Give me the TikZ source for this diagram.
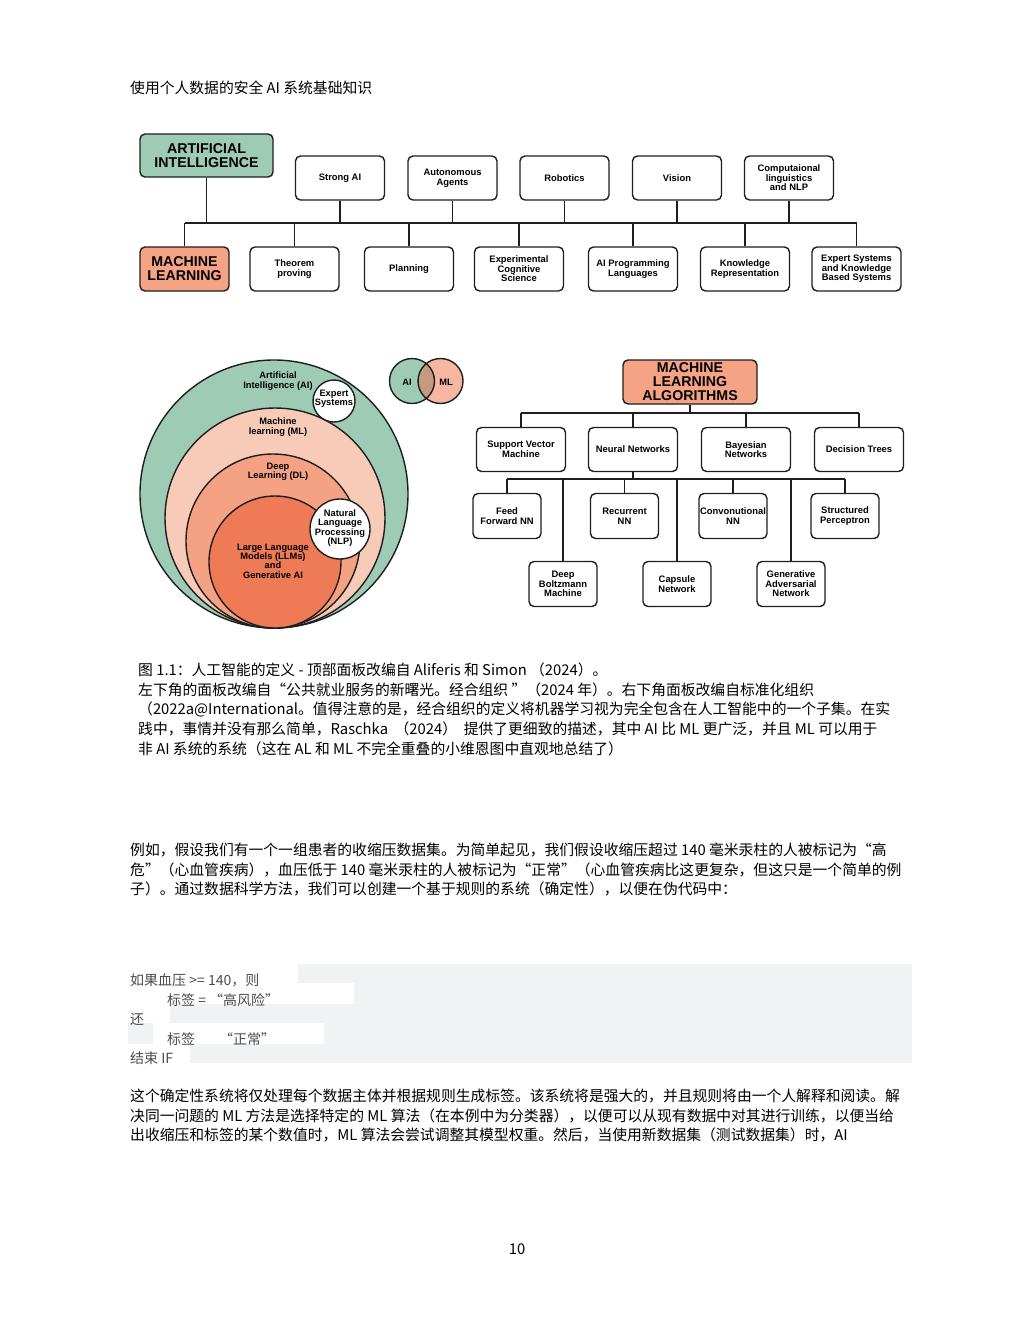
\documentclass[tikz,border=0pt]{standalone}
\usepackage{fontspec}
\setmainfont{Noto Sans CJK SC}
\newfontfamily\diagfont{Liberation Sans}
\usetikzlibrary{positioning}

\definecolor{aigreen}{HTML}{9DCBB5}
\definecolor{mlpeach}{HTML}{F8CBB9}
\definecolor{dlsalmon}{HTML}{F4A283}
\definecolor{llmorange}{HTML}{EF7A56}
\definecolor{mlbox}{HTML}{F4A384}
\definecolor{mlsmall}{HTML}{F5B6A2}
\definecolor{overlap}{HTML}{C59A80}
\definecolor{codegray}{HTML}{F1F2F4}
\definecolor{edge}{HTML}{1E1E1E}

\begin{document}
\begin{tikzpicture}[
  x=1pt, y=-1pt,
  box/.style={draw=edge, line width=1.4pt, rounded corners=5pt, fill=white,
              align=center, inner sep=1pt, minimum width=89, minimum height=44,
              font=\diagfont\bfseries\fontsize{9.4}{9.6}\selectfont},
  smallbox/.style={box, minimum width=68, minimum height=45},
  bigbox/.style={box, font=\diagfont\bfseries\fontsize{14.2}{14}\selectfont},
  link/.style={draw=edge, line width=1.4pt},
  ring/.style={circle, draw=edge, line width=1.4pt, inner sep=0pt},
  lbl/.style={inner sep=0pt, align=center,
              font=\diagfont\bfseries\fontsize{9.3}{9.4}\selectfont},
  txt/.style={anchor=base west, inner sep=0pt, font=\fontsize{14.8}{19.7}\selectfont},
  code/.style={anchor=base west, inner sep=0pt, text=black!70,
               font=\fontsize{14}{19}\selectfont}
]
\useasboundingbox (0,0) rectangle (1020,1320);

\node[txt] (title) at (130,93.5) {使用个人数据的安全 AI 系统基础知识};

% top panel: AI hierarchy
\node[bigbox, fill=aigreen, minimum width=133, minimum height=43] (ai) at (206.5,155.5)
  {ARTIFICIAL\\INTELLIGENCE};
\node[box] (strong)   at (340,178)   {Strong AI};
\node[box] (agents)   at (452.5,178) {Autonomous\\Agents};
\node[box] (robotics) at (564.5,178) {Robotics};
\node[box] (vision)   at (677,178)   {Vision};
\node[box] (compling) at (789,178)   {Computaional\\linguistics\\and NLP};

\node[bigbox, fill=mlbox, minimum width=89] (ml) at (184.5,269) {MACHINE\\LEARNING};
\node[box] (theorem)  at (294.5,269) {Theorem\\proving};
\node[box] (planning) at (409,269)   {Planning};
\node[box] (expcog)   at (519,269)   {Experimental\\Cognitive\\Science};
\node[box] (aiprog)   at (633,269)   {AI Programming\\Languages};
\node[box] (knowrep)  at (745,269)   {Knowledge\\Representation};
\node[box] (expsys)   at (856.5,269) {Expert Systems\\and Knowledge\\Based Systems};

\coordinate (busA) at (184.5,223);
\coordinate (busB) at (856.5,223);
\draw[link] (busA) -- (busB);
\foreach \n in {ai,strong,agents,robotics,vision,compling}
  \draw[link] (\n.south) -- (\n.south |- busA);
\foreach \n in {ml,theorem,planning,expcog,aiprog,knowrep,expsys}
  \draw[link] (\n.north) -- (\n.north |- busA);

% bottom left: nested circles
\node[ring, fill=aigreen,   minimum size=268] (aicirc)  at (274,494) {};
\node[ring, fill=mlpeach,   minimum size=220] (mlcirc)  at (275,518) {};
\node[ring, fill=dlsalmon,  minimum size=174] (dlcirc)  at (273,541) {};
\node[ring, fill=llmorange, minimum size=132] (llmcirc) at (275,562) {};
\node[ring, fill=white, minimum size=42] (escirc)  at (334,401) {};
\node[ring, fill=white, minimum size=60] (nlpcirc) at (340,529) {};

\node[lbl] (ailbl)  at (278,381) {Artificial\\Intelligence (AI)};
\node[lbl] (mllbl)  at (278,427) {Machine\\learning (ML)};
\node[lbl] (dllbl)  at (278,472) {Deep\\Learning (DL)};
\node[lbl] (llmlbl) at (273,561) {Large Language\\Models (LLMs)\\and\\Generative AI};
\node[lbl] (eslbl)  at (334,399) {Expert\\Systems};
\node[lbl] (nlplbl) at (340,528) {Natural\\Language\\Processing\\(NLP)};

% small Venn
\node[circle, fill=aigreen, minimum size=45, inner sep=0pt] (vai) at (412,381) {};
\node[circle, fill=mlsmall, minimum size=45, inner sep=0pt] (vml) at (440.5,381) {};
\begin{scope}
  \clip (vai.center) circle (22.5);
  \fill[overlap] (vml.center) circle (22.5);
\end{scope}
\draw[edge, line width=1.4pt] (vai.center) circle (22.5) (vml.center) circle (22.5);
\node[lbl] (vailbl) at (407,382) {AI};
\node[lbl] (vmllbl) at (446,382) {ML};

% bottom right: ML algorithms
\node[bigbox, fill=mlbox, minimum width=134, minimum height=44] (mla) at (690,382)
  {MACHINE\\LEARNING\\ALGORITHMS};
\node[box] (svm)    at (521,449.5) {Support Vector\\Machine};
\node[box] (neural) at (633,449.5) {Neural Networks};
\node[box] (bayes)  at (746,449.5) {Bayesian\\Networks};
\node[box] (dtree)  at (859,449.5) {Decision Trees};

\node[smallbox] (ffnn)  at (507,516)   {Feed\\Forward NN};
\node[smallbox] (rnn)   at (624.5,516) {Recurrent\\NN};
\node[smallbox] (cnn)   at (733,516)   {Convonutional\\NN};
\node[smallbox] (sperc) at (845,516)   {Structured\\Perceptron};

\node[smallbox] (dbm)     at (563,584) {Deep\\Boltzmann\\Machine};
\node[smallbox] (capsule) at (677,584) {Capsule\\Network};
\node[smallbox] (gan)     at (791,584) {Generative\\Adversarial\\Network};

\coordinate (busC) at (521,413);
\coordinate (busD) at (859,413);
\coordinate (busE) at (507,479);
\coordinate (busF) at (845,479);
\draw[link] (busC) -- (busD);
\draw[link] (busE) -- (busF);
\draw[link] (mla.south) -- (mla.south |- busC);
\foreach \n in {svm,neural,bayes,dtree}
  \draw[link] (\n.north) -- (\n.north |- busC);
\draw[link] (neural.south) -- (neural.south |- busE);
\foreach \n in {ffnn,rnn,cnn,sperc,dbm,capsule,gan}
  \draw[link] (\n.north) -- (\n.north |- busE);

% caption
\node[txt] (cap1) at (138,675.5) {图 1.1：人工智能的定义 - 顶部面板改编自 Aliferis 和 Simon （2024）。};
\node[txt] (cap2) at (138,695.2) {左下角的面板改编自“公共就业服务的新曙光。经合组织 ”（2024 年）。右下角面板改编自标准化组织};
\node[txt] (cap3) at (138,714.9) {（2022a@International。值得注意的是，经合组织的定义将机器学习视为完全包含在人工智能中的一个子集。在实};
\node[txt] (cap4) at (138,734.6) {践中，事情并没有那么简单，Raschka \ （2024） \ 提供了更细致的描述，其中 AI 比 ML 更广泛，并且 ML 可以用于};
\node[txt] (cap5) at (138,754.3) {非 AI 系统的系统（这在 AL 和 ML 不完全重叠的小维恩图中直观地总结了）};

% body text
\node[txt] (par1a) at (130,855.5) {例如，假设我们有一个一组患者的收缩压数据集。为简单起见，我们假设收缩压超过 140 毫米汞柱的人被标记为“高};
\node[txt] (par1b) at (130,875.2) {危”（心血管疾病），血压低于 140 毫米汞柱的人被标记为“正常”（心血管疾病比这更复杂，但这只是一个简单的例};
\node[txt] (par1c) at (130,894.9) {子）。通过数据科学方法，我们可以创建一个基于规则的系统（确定性），以便在伪代码中：};

% pseudo code block
\fill[codegray] (128,964) rectangle (912,1063);
\fill[white] (128,964)  rectangle (298,983);
\fill[white] (128,983)  rectangle (354,1004);
\fill[white] (128,1004) rectangle (170,1023);
\fill[white] (153,1023) rectangle (324,1044);
\fill[white] (128,1044) rectangle (190,1064);
\node[code] (code1) at (130,985)  {如果血压 >= 140，则};
\node[code] (code2) at (167,1005) {标签 = “高风险”};
\node[code] (code3) at (130,1024) {还};
\node[code] (code4) at (167,1044) {标签\hspace{24pt}“正常”};
\node[code] (code5) at (130,1063) {结束 IF};

\node[txt] (par2a) at (130,1101.5) {这个确定性系统将仅处理每个数据主体并根据规则生成标签。该系统将是强大的，并且规则将由一个人解释和阅读。解};
\node[txt] (par2b) at (130,1121.2) {决同一问题的 ML 方法是选择特定的 ML 算法（在本例中为分类器），以便可以从现有数据中对其进行训练，以便当给};
\node[txt] (par2c) at (130,1140.9) {出收缩压和标签的某个数值时，ML 算法会尝试调整其模型权重。然后，当使用新数据集（测试数据集）时，AI};

\node[font=\fontsize{14.8}{18}\selectfont, inner sep=0pt] (pagenum) at (517,1249) {10};
\end{tikzpicture}
\end{document}
